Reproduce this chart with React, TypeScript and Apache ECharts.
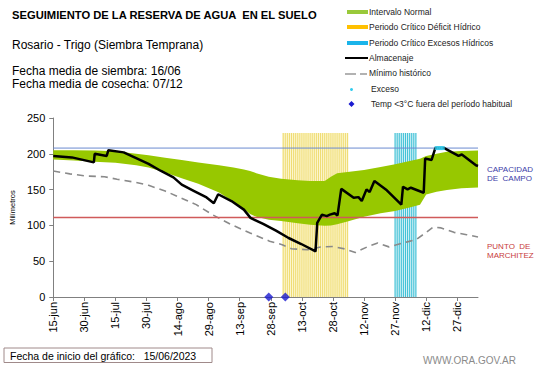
import React, { useEffect, useRef } from "react";
import * as echarts from "echarts";

// x = days since 15-jun
const tickLabels = ["15-jun", "30-jun", "15-jul", "30-jul", "14-ago", "29-ago", "13-sep", "28-sep", "13-oct", "28-oct", "12-nov", "27-nov", "12-dic", "27-dic"];

const bandDays = [0, 10, 20, 30, 40, 46, 54, 62, 70, 80, 87, 92, 95, 98, 104, 110, 118, 124, 131, 134, 137, 142, 150, 158, 165, 172, 177, 180, 185, 190, 197, 205];
const bandUpper = [205, 205, 204.5, 203.5, 200, 198, 194.5, 191.5, 188, 184, 181, 178, 176, 173, 168, 165, 163, 162, 162, 168, 173, 174.5, 177.5, 181.5, 185.5, 190, 193, 197, 200, 202.7, 204, 204.5];
const bandLower = [192, 190.5, 189, 187.5, 184, 181, 174, 166, 158, 146, 133, 123, 116, 112, 108, 106, 103, 101, 99.5, 100, 101.5, 105.5, 112, 117, 120, 125, 129, 143, 147, 149.5, 152, 153];

const storage = [
  [0, 197], [9, 195], [19.6, 188], [20, 200], [25.8, 197], [26.6, 205], [34, 202], [40, 194], [46, 186],
  [52, 176], [58, 167], [62, 157], [68, 148], [74, 139], [77.5, 131], [79.6, 143.5], [86, 134], [92, 122],
  [95.2, 110.5], [101.3, 102], [107.5, 92.7], [113.6, 82.4], [119.7, 74], [126.6, 63.6], [127.4, 103.5],
  [129.7, 115], [132, 113], [133.5, 115], [135.8, 117], [137.2, 114], [139, 151], [145, 138.6], [147.3, 139.5],
  [148.9, 134], [151.2, 150.3], [152.7, 146.5], [155, 162], [161, 149], [168, 129], [168.8, 154], [171, 150.3],
  [172.6, 152.6], [178.8, 145.6], [179.5, 193.4], [182.6, 191.4], [184.4, 208], [188.7, 208], [195.6, 197],
  [197.2, 199], [204, 184], [205, 183],
];

const minHist = [
  [0, 176], [8, 172], [15.5, 169], [24.7, 168], [30.8, 164.5], [40, 160], [46, 156], [54, 148], [61.5, 138.6],
  [69, 129], [76.8, 115], [86, 101], [95, 89.4], [104.4, 78], [110.5, 73], [115, 67.4], [122.8, 66], [129, 69.8],
  [135, 70.6], [141, 67], [145.8, 62.2], [152, 70.6], [156.6, 75.4], [162, 70], [165.7, 73], [171.8, 77.7],
  [175, 80], [179.6, 89.4], [183.4, 97.8], [187.2, 96.5], [193.4, 90.3], [199.5, 87], [205, 83.8],
];

const xEnd = 205;
const fieldCapacity = 208;
const wiltingPoint = 111;
const deficitPeriod = [111, 142];
const excessPeriod = [165, 175];
const periodTop = 229;
const excessPoints = [[185, 208], [186, 208], [187, 208], [188, 208]];
const coldDays = [104, 112];

const FONT = "'Liberation Sans', Arial, sans-serif";

function stripes(range: number[]) {
  const out: number[][] = [];
  for (let d = range[0]; d <= range[1]; d++) out.push([d, periodTop]);
  return out;
}

export default function App() {
  const ref = useRef<HTMLDivElement>(null);
  useEffect(() => {
    if (!ref.current) return;
    const chart = echarts.init(ref.current, null, { renderer: "svg" });
    const bandData = bandDays.map((d, i) => [d, bandLower[i], bandUpper[i]]);

    const txt = (text: string, x: number, y: number, size: number, extra: any = {}) => ({
      type: "text",
      x,
      y,
      style: { text, fontSize: size, fontFamily: FONT, fill: "#000", verticalAlign: "middle", align: "left", ...extra },
    });

    const legendText = (text: string, x: number, y: number) => txt(text, x, y, 8.5, { fill: "#222" });

    chart.setOption({
      animation: false,
      grid: { left: 33, right: 63, top: 118, bottom: 71 },
      xAxis: {
        type: "value",
        min: 0,
        max: xEnd,
        interval: 15,
        splitLine: { show: false },
        axisLine: { lineStyle: { color: "#808080", width: 1 } },
        axisTick: { show: true, length: 4, lineStyle: { color: "#808080" } },
        axisLabel: {
          rotate: 90,
          margin: 5,
          fontSize: 11,
          fontFamily: FONT,
          color: "#000",
          showMaxLabel: false,
          formatter: (v: number) => (v % 15 === 0 ? tickLabels[v / 15] ?? "" : ""),
        },
      },
      yAxis: {
        type: "value",
        min: 0,
        max: 250,
        interval: 50,
        name: "Milímetros",
        nameLocation: "middle",
        nameRotate: 90,
        nameGap: 26,
        nameTextStyle: { fontSize: 7.5, fontFamily: FONT, color: "#000" },
        splitLine: { show: false },
        axisLine: { show: true, lineStyle: { color: "#808080", width: 1 } },
        axisTick: { show: true, length: 4, lineStyle: { color: "#808080" } },
        axisLabel: { fontSize: 11, fontFamily: FONT, color: "#000", margin: 8 },
      },
      series: [
        {
          name: "Periodo Crítico Déficit Hídrico",
          type: "bar",
          data: stripes(deficitPeriod),
          barWidth: 1,
          itemStyle: { color: "#efdc72" },
          z: 1,
          markArea: {
            silent: true,
            itemStyle: { color: "#fcf6cf" },
            data: [[{ coord: [deficitPeriod[0] - 0.5, 0] }, { coord: [deficitPeriod[1] + 0.5, periodTop] }]],
          },
        },
        {
          name: "Periodo Crítico Excesos Hídricos",
          type: "bar",
          data: stripes(excessPeriod),
          barWidth: 1,
          barGap: "-100%",
          itemStyle: { color: "#3fc0d6" },
          z: 1,
          markArea: {
            silent: true,
            itemStyle: { color: "#d2f1f6" },
            data: [[{ coord: [excessPeriod[0] - 0.5, 0] }, { coord: [excessPeriod[1] + 0.5, periodTop] }]],
          },
        },
        {
          name: "Intervalo Normal",
          type: "custom",
          data: bandData,
          encode: { x: 0, y: [1, 2] },
          z: 2,
          renderItem: (params: any, api: any) => {
            if (params.dataIndex !== 0) return null;
            const top = bandDays.map((d, i) => api.coord([d, bandUpper[i]]));
            const bottom = bandDays.map((d, i) => api.coord([d, bandLower[i]])).reverse();
            return {
              type: "polygon",
              shape: { points: top.concat(bottom) },
              style: { fill: "#97c800", stroke: "none" },
            };
          },
        },
        {
          name: "Mínimo histórico",
          type: "line",
          data: minHist,
          symbol: "none",
          lineStyle: { color: "#8a8a8a", width: 1.6, type: [7, 5] },
          z: 3,
        },
        {
          name: "Capacidad de campo",
          type: "line",
          data: [[0, fieldCapacity], [xEnd, fieldCapacity]],
          symbol: "none",
          lineStyle: { color: "#6a8ad0", width: 1 },
          itemStyle: { color: "#6a8ad0" },
          z: 3,
        },
        {
          name: "Punto de marchitez",
          type: "line",
          data: [[0, wiltingPoint], [xEnd, wiltingPoint]],
          symbol: "none",
          lineStyle: { color: "#d05a5a", width: 1.4 },
          itemStyle: { color: "#d05a5a" },
          z: 3,
        },
        {
          name: "Almacenaje",
          type: "line",
          data: storage,
          symbol: "none",
          lineStyle: { color: "#000", width: 2.5 },
          z: 4,
        },
        {
          name: "Exceso",
          type: "scatter",
          data: excessPoints,
          symbol: "rect",
          symbolSize: [4, 4],
          itemStyle: { color: "#33ccee" },
          z: 5,
        },
        {
          name: "Temp <3°C fuera del período habitual",
          type: "scatter",
          data: coldDays.map((d) => [d, 0]),
          symbol: "diamond",
          symbolSize: 9,
          clip: false,
          itemStyle: { color: "#1a1ad0" },
          z: 6,
        },
      ],
      graphic: [
        txt("SEGUIMIENTO DE LA RESERVA DE AGUA  EN EL SUELO", 12, 15, 11.2, { fontWeight: "bold" }),
        txt("Rosario - Trigo (Siembra Temprana)", 12, 45, 12),
        txt("Fecha media de siembra: 16/06", 12, 71, 12),
        txt("Fecha media de cosecha: 07/12", 12, 84, 12),
        // legend
        { type: "rect", shape: { x: 347, y: 10, width: 21, height: 4 }, style: { fill: "#99c93a" } },
        legendText("Intervalo Normal", 369, 12),
        { type: "rect", shape: { x: 347, y: 25, width: 21, height: 4 }, style: { fill: "#ffc000" } },
        legendText("Periodo Crítico Déficit Hídrico", 369, 27),
        { type: "rect", shape: { x: 347, y: 41, width: 21, height: 4 }, style: { fill: "#1ab4ea" } },
        legendText("Periodo Crítico Excesos Hídricos", 369, 43),
        { type: "line", shape: { x1: 345, y1: 58, x2: 368, y2: 58 }, style: { stroke: "#000", lineWidth: 2 } },
        legendText("Almacenaje", 369, 58),
        { type: "line", shape: { x1: 345, y1: 74, x2: 356, y2: 74 }, style: { stroke: "#999", lineWidth: 1.5 } },
        { type: "line", shape: { x1: 360, y1: 74, x2: 367, y2: 74 }, style: { stroke: "#999", lineWidth: 1.5 } },
        legendText("Mínimo histórico", 369, 73),
        { type: "circle", shape: { cx: 351.5, cy: 89.5, r: 1.5 }, style: { fill: "#33ccee" } },
        legendText("Exceso", 371, 89),
        { type: "polygon", shape: { points: [[351.5, 101], [354.5, 104], [351.5, 107], [348.5, 104]] }, style: { fill: "#1a1ad0" } },
        legendText("Temp <3°C fuera del período habitual", 371, 104),
        // right labels
        txt("CAPACIDAD\nDE  CAMPO", 487, 174, 8, { fill: "#3c3ca8", lineHeight: 9 }),
        txt("PUNTO  DE\nMARCHITEZ", 487, 251, 8, { fill: "#c83c3c", lineHeight: 9 }),
        // bottom box
        { type: "rect", shape: { x: 4, y: 348, width: 208, height: 14.5 }, style: { fill: "#fff", stroke: "#a08a8a", lineWidth: 1 } },
        txt("Fecha de inicio del gráfico:   15/06/2023", 10, 355.5, 10.5),
        txt("WWW.ORA.GOV.AR", 423, 360, 10, { fill: "#8a8a8a" }),
      ],
    });
    return () => chart.dispose();
  }, []);
  return <div ref={ref} style={{ position: "fixed", left: 0, top: 0, width: 541, height: 368, background: "#fff" }} />;
}
